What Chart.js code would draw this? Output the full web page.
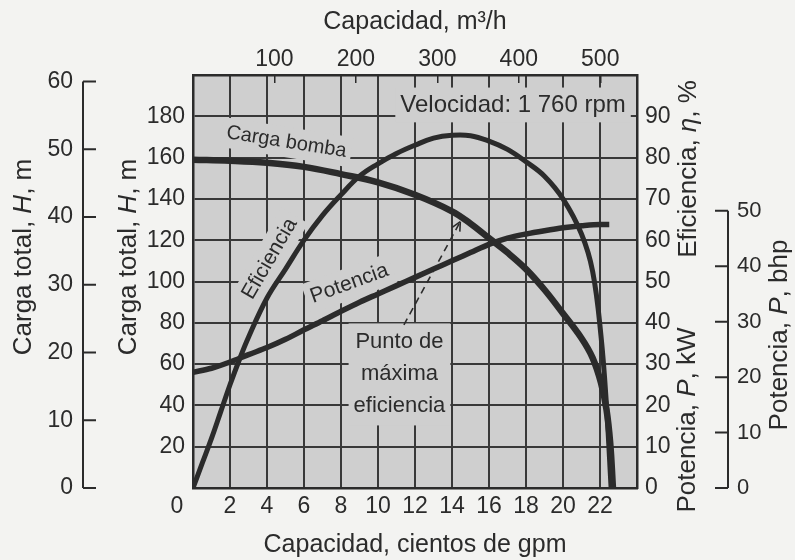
<!DOCTYPE html>
<html>
<head>
<meta charset="utf-8">
<script src="https://cdn.jsdelivr.net/npm/chart.js@4.4.1/dist/chart.umd.min.js"></script>
<style>
    html, body { margin: 0; padding: 0; background: #f3f3f1; }
    canvas { display: block; }
</style>
</head>
<body>
<canvas id="chart" width="795" height="560"></canvas>
<script>
'use strict';

// Capacidad, cientos de gpm
const gpmHead = [0, 2, 4, 6, 8, 10, 12, 14, 15, 16, 17, 18, 19, 20, 21, 21.6, 22.05, 22.35, 22.55, 22.7];
// Carga bomba, ft (escala interior)
const headFt = [159, 158.5, 157.5, 155.5, 152, 148, 142, 134, 128, 121, 114, 106, 96, 84.5, 72.5, 63, 51, 38, 22, 0];

const gpmEff = [0, 0.5, 1, 1.5, 2, 2.5, 3, 4, 5, 6, 7, 8, 9, 10, 11, 12, 13, 14, 15, 16, 17, 18, 19, 20, 21, 21.6, 22.05, 22.35, 22.6];
const effPct = [0, 6, 12, 18.5, 25, 31, 36.5, 46, 53, 60, 66, 71, 75.5, 78.5, 81, 83, 84.7, 85.4, 85.3, 84, 82, 79, 75.5, 70, 61.5, 52.5, 37, 20, 0];

const gpmPow = [0, 1, 2, 3, 4, 5, 6, 7, 8, 9, 10, 11, 12, 13, 14, 15, 16, 17, 18, 19, 20, 21, 22, 22.5];
const powKw = [28, 29, 30.5, 32.3, 34, 36, 38.3, 40.5, 42.8, 45, 47, 49, 51, 53, 55, 57, 59, 60.5, 61.5, 62.3, 63, 63.5, 63.8, 63.8];

// tick labels
const m3hTicks = [100, 200, 300, 400, 500];
const headMTicks = [0, 10, 20, 30, 40, 50, 60];
const pctTicks = [0, 10, 20, 30, 40, 50, 60, 70, 80, 90];
const bhpTicks = [0, 10, 20, 30, 40, 50];

// punto de máxima eficiencia (gpm/100, ft)
const arrowFrom = [11.4, 79];
const arrowTo = [14.45, 129];

const M3H_PER_100GPM = 22.7125;
const FT_TO_M = 0.3048;
const BHP_TOP = 74.5;

const FAMILY = '"Liberation Sans", Arial, sans-serif';
const INK = '#2b2b2b';
const PLOT_BG = '#cfcfcf';
const GRID = '#383838';

Chart.defaults.font.family = FAMILY;
Chart.defaults.color = INK;

const tickFont = { size: 23 };

function points(xs, ys) {
    return xs.map((x, i) => ({ x: x, y: ys[i] }));
}

function richText(ctx, parts, cx, cy, size, angle) {
    ctx.save();
    ctx.translate(cx, cy);
    ctx.rotate(angle);
    ctx.textBaseline = 'middle';
    ctx.textAlign = 'left';
    ctx.fillStyle = INK;
    const fonts = parts.map(p => (p[1] ? 'italic ' : '') + size + 'px ' + FAMILY);
    let total = 0;
    const widths = parts.map((p, i) => {
        ctx.font = fonts[i];
        const w = ctx.measureText(p[0]).width;
        total += w;
        return w;
    });
    let x = -total / 2;
    parts.forEach((p, i) => {
        ctx.font = fonts[i];
        ctx.fillText(p[0], x, 0);
        x += widths[i];
    });
    ctx.restore();
}

function plotLabel(ctx, note, cx, cy) {
    const gap = note.gap || note.size * 1.2;
    ctx.save();
    ctx.translate(cx, cy);
    ctx.rotate(note.angle * Math.PI / 180);
    ctx.font = note.size + 'px ' + FAMILY;
    const w = Math.max(...note.lines.map(l => ctx.measureText(l).width));
    const h = note.lines.length * gap;
    ctx.fillStyle = PLOT_BG;
    ctx.fillRect(-w / 2 - 5, -h / 2 - 3, w + 10, h + 6);
    ctx.fillStyle = INK;
    ctx.textAlign = 'center';
    ctx.textBaseline = 'middle';
    note.lines.forEach((l, i) => ctx.fillText(l, 0, -h / 2 + gap * (i + 0.5)));
    ctx.restore();
}

const notes = [
    { lines: ['Velocidad: 1 760 rpm'], q: 17.3, ft: 185.5, size: 24, angle: 0 },
    { lines: ['Carga bomba'], q: 5.05, ft: 167.5, size: 20, angle: 9 },
    { lines: ['Eficiencia'], q: 4.15, ft: 111, size: 21, angle: -60 },
    { lines: ['Potencia'], q: 8.45, ft: 99, size: 21, angle: -20 },
    { lines: ['Punto de', 'máxima', 'eficiencia'], q: 11.16, ft: 55, size: 22, angle: 0, gap: 32 },
];

const decor = {
    id: 'decor',
    beforeDraw(chart) {
        const { ctx, chartArea: a } = chart;
        ctx.save();
        ctx.fillStyle = PLOT_BG;
        ctx.fillRect(a.left, a.top, a.right - a.left, a.bottom - a.top);
        ctx.restore();
    },
    beforeDatasetsDraw(chart) {
        const { ctx, scales } = chart;
        notes.forEach(n => {
            plotLabel(ctx, n, scales.x.getPixelForValue(n.q), scales.y.getPixelForValue(n.ft));
        });
    },
    afterDraw(chart) {
        const { ctx, scales } = chart;
        ctx.save();
        ctx.strokeStyle = INK;
        ctx.lineWidth = 2;

        // bracket axis, m
        const sm = scales.yM;
        const xm = sm.right - 17;
        ctx.beginPath();
        ctx.moveTo(xm, sm.getPixelForValue(0));
        ctx.lineTo(xm, sm.getPixelForValue(60));
        headMTicks.forEach(v => {
            const y = sm.getPixelForValue(v);
            ctx.moveTo(xm, y);
            ctx.lineTo(xm + 13, y);
        });
        ctx.stroke();

        // bracket axis, bhp
        const sb = scales.bhp;
        const xb = sb.left + 26;
        ctx.beginPath();
        ctx.moveTo(xb, sb.getPixelForValue(0));
        ctx.lineTo(xb, sb.getPixelForValue(50));
        bhpTicks.forEach(v => {
            const y = sb.getPixelForValue(v);
            ctx.moveTo(xb - 13, y);
            ctx.lineTo(xb, y);
        });
        ctx.stroke();

        // dashed arrow to max efficiency point
        const x0 = scales.x.getPixelForValue(arrowFrom[0]);
        const y0 = scales.y.getPixelForValue(arrowFrom[1]);
        const x1 = scales.x.getPixelForValue(arrowTo[0]);
        const y1 = scales.y.getPixelForValue(arrowTo[1]);
        ctx.lineWidth = 1.6;
        ctx.setLineDash([7, 5]);
        ctx.beginPath();
        ctx.moveTo(x0, y0);
        ctx.lineTo(x1, y1);
        ctx.stroke();
        ctx.setLineDash([]);
        const ang = Math.atan2(y1 - y0, x1 - x0);
        ctx.beginPath();
        [-0.45, 0.45].forEach(d => {
            ctx.moveTo(x1, y1);
            ctx.lineTo(x1 - 10 * Math.cos(ang + d), y1 - 10 * Math.sin(ang + d));
        });
        ctx.stroke();

        // "0" of the gpm axis, set off to the left
        ctx.fillStyle = INK;
        ctx.font = '23px ' + FAMILY;
        ctx.textAlign = 'center';
        ctx.textBaseline = 'middle';
        ctx.fillText('0', scales.x.getPixelForValue(0) - 16, scales.x.top + 19);
        ctx.restore();

        // vertical titles
        const up = -Math.PI / 2;
        richText(ctx, [['Carga total, ', 0], ['H', 1], [', m', 0]], 24, 257, 26, up);
        richText(ctx, [['Carga total, ', 0], ['H', 1], [', m', 0]], 129, 257, 26, up);
        richText(ctx, [['Eficiencia, ', 0], ['η', 1], [', %', 0]], 689, 169, 26, up);
        richText(ctx, [['Potencia, ', 0], ['P', 1], [', kW', 0]], 688, 420, 26, up);
        richText(ctx, [['Potencia, ', 0], ['P', 1], [', bhp', 0]], 780, 335, 26, up);
    },
};

new Chart(document.getElementById('chart'), {
    type: 'line',
    data: {
        datasets: [{
            label: 'Potencia',
            data: points(gpmPow, powKw),
            yAxisID: 'pct',
            borderColor: INK,
            borderWidth: 5.5,
            cubicInterpolationMode: 'monotone',
        }, {
            label: 'Carga bomba',
            data: points(gpmHead, headFt),
            yAxisID: 'y',
            borderColor: INK,
            borderWidth: 6.5,
            tension: 0.4,
        }, {
            label: 'Eficiencia',
            data: points(gpmEff, effPct),
            yAxisID: 'pct',
            borderColor: INK,
            borderWidth: 5,
            tension: 0.4,
        }],
    },
    options: {
        responsive: false,
        animation: false,
        layout: { padding: 0 },
        elements: { point: { radius: 0 } },
        plugins: {
            legend: { display: false },
            tooltip: { enabled: false },
        },
        scales: {
            x: {
                type: 'linear',
                position: 'bottom',
                min: 0,
                max: 24,
                ticks: {
                    stepSize: 2,
                    autoSkip: false,
                    maxRotation: 0,
                    padding: 5,
                    font: tickFont,
                    callback: v => (v === 0 || v === 24 ? '' : v),
                },
                grid: { color: GRID, lineWidth: 2, drawTicks: false },
                border: { color: INK, width: 2.5 },
                title: {
                    display: true,
                    text: 'Capacidad, cientos de gpm',
                    font: { size: 25 },
                    padding: { top: 0, bottom: 0 },
                },
                afterFit: s => { s.height = 72; },
            },
            xTop: {
                type: 'linear',
                axis: 'x',
                position: 'top',
                min: 0,
                max: 24 * M3H_PER_100GPM,
                afterBuildTicks: s => { s.ticks = m3hTicks.map(v => ({ value: v })); },
                ticks: { padding: 10, font: tickFont, maxRotation: 0 },
                grid: { drawOnChartArea: false, tickLength: -8, color: INK, lineWidth: 1.5 },
                border: { color: INK, width: 2.5 },
                title: {
                    display: true,
                    text: 'Capacidad, m³/h',
                    font: { size: 25 },
                    padding: { top: 7, bottom: 0 },
                },
                afterFit: s => { s.height = 75; },
            },
            y: {
                type: 'linear',
                position: 'left',
                weight: 0,
                min: 0,
                max: 200,
                ticks: {
                    stepSize: 20,
                    padding: 8,
                    font: tickFont,
                    callback: v => (v === 0 || v === 200 ? '' : v),
                },
                grid: { color: GRID, lineWidth: 2, drawTicks: false },
                border: { color: INK, width: 2.5 },
                afterFit: s => { s.width = 93; },
            },
            yM: {
                type: 'linear',
                axis: 'y',
                position: 'left',
                weight: 1,
                min: 0,
                max: 200 * FT_TO_M,
                afterBuildTicks: s => { s.ticks = headMTicks.map(v => ({ value: v })); },
                ticks: { padding: 27, font: tickFont },
                grid: { display: false, drawTicks: false },
                border: { display: false },
                afterFit: s => { s.width = 100; },
            },
            pct: {
                type: 'linear',
                axis: 'y',
                position: 'right',
                weight: 0,
                min: 0,
                max: 100,
                afterBuildTicks: s => { s.ticks = pctTicks.map(v => ({ value: v })); },
                ticks: { padding: 8, font: tickFont },
                grid: { display: false, drawTicks: false },
                border: { color: INK, width: 2.5 },
                afterFit: s => { s.width = 65; },
            },
            bhp: {
                type: 'linear',
                axis: 'y',
                position: 'right',
                weight: 1,
                min: 0,
                max: BHP_TOP,
                afterBuildTicks: s => { s.ticks = bhpTicks.map(v => ({ value: v })); },
                ticks: { padding: 35, font: { size: 22 } },
                grid: { display: false, drawTicks: false },
                border: { display: false },
                afterFit: s => { s.width = 93; },
            },
        },
    },
    plugins: [decor],
});
</script>
</body>
</html>
